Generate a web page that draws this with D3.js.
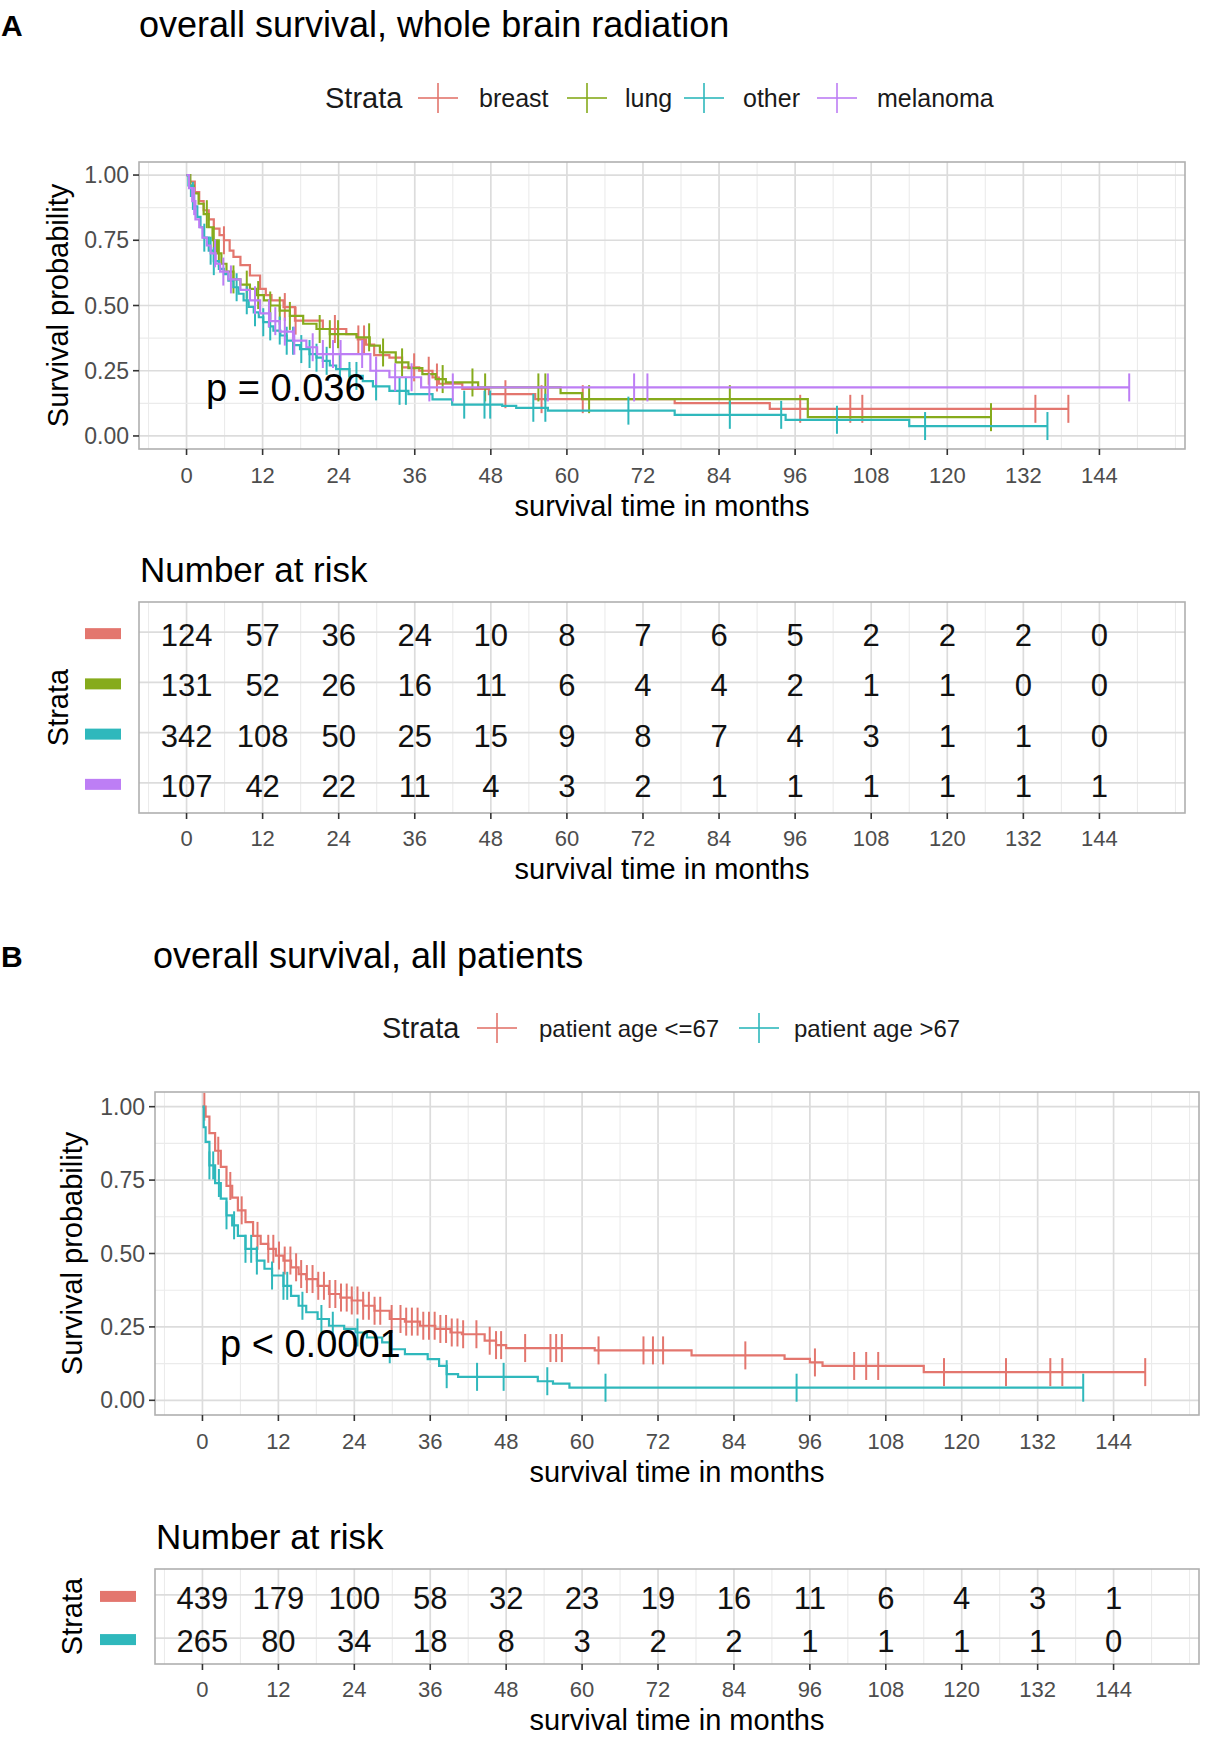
<!DOCTYPE html>
<html>
<head>
<meta charset="utf-8">
<script src="https://cdn.jsdelivr.net/npm/d3@7"></script>
<style>
  body { margin: 0; background: #fff; }
  svg { display: block; font-family: "Liberation Sans", Arial, sans-serif; }
  .tick-label { fill: #4d4d4d; font-size: 22px; }
  .axis-title { fill: #000; font-size: 29px; }
</style>
</head>
<body>
<div id="chart"></div>
<script>
// ---- data ----
const timeTicks = [0, 12, 24, 36, 48, 60, 72, 84, 96, 108, 120, 132, 144];
const yTicks = [0, 0.25, 0.5, 0.75, 1];

// panel A : whole brain radiation, by primary tumour
const strataA = ['breast', 'lung', 'other', 'melanoma'];
const breastSteps = [[0,1],[0.5,0.975],[1.3,0.935],[2,0.9],[2.7,0.865],[3.5,0.83],[4.3,0.795],[5.2,0.77],[5.9,0.75],[6.8,0.71],[7.4,0.686],[8.5,0.655],[10,0.615],[11.6,0.564],[12.5,0.54],[13.4,0.52],[15.3,0.494],[17.1,0.442],[21.5,0.41],[25.2,0.39],[27,0.37],[28.3,0.35],[29.6,0.31],[32,0.3],[34,0.263],[36.7,0.25],[38.8,0.224],[39.8,0.2],[43.5,0.18],[47.7,0.16],[55,0.141],[77,0.126],[92,0.104],[139.1,0.104]];
const lungSteps = [[0,1],[0.6,0.96],[1.15,0.93],[1.9,0.89],[2.7,0.85],[3.5,0.8],[4.1,0.75],[4.8,0.7],[5.5,0.66],[6.3,0.63],[7.4,0.6],[8.5,0.58],[10,0.564],[11,0.54],[12.2,0.52],[13.2,0.5],[14.7,0.48],[16.3,0.46],[18.4,0.43],[20.5,0.41],[22.6,0.39],[26.8,0.378],[28.9,0.346],[30.5,0.32],[33,0.282],[35,0.26],[37.2,0.237],[39.3,0.218],[40.9,0.205],[46,0.186],[59,0.164],[62.4,0.141],[98,0.072],[126.9,0.072]];
const otherSteps = [[0,1],[0.3,0.96],[0.7,0.92],[1.2,0.88],[1.7,0.84],[2.2,0.8],[2.7,0.76],[3.5,0.71],[4.3,0.67],[5.1,0.64],[5.9,0.62],[6.6,0.595],[7.4,0.57],[8.2,0.545],[9,0.52],[9.8,0.495],[10.6,0.474],[11.4,0.455],[12.1,0.436],[13,0.42],[13.7,0.404],[14.8,0.385],[15.8,0.365],[16.9,0.348],[17.9,0.333],[19.4,0.314],[20.5,0.3],[21.5,0.288],[22.6,0.27],[23.6,0.256],[25.7,0.23],[27.8,0.21],[29.4,0.19],[32,0.173],[35,0.16],[38.8,0.14],[41.9,0.12],[49.8,0.115],[52,0.108],[57,0.097],[77,0.081],[94.5,0.062],[114,0.038],[135.8,0.038]];
const melanomaSteps = [[0,1],[0.4,0.95],[0.9,0.9],[1.4,0.83],[2,0.8],[2.5,0.76],[3.2,0.73],[3.8,0.7],[4.6,0.66],[5.3,0.63],[6.6,0.6],[8.5,0.56],[10,0.52],[11.6,0.47],[13.2,0.44],[14.7,0.4],[16.8,0.365],[18.9,0.34],[20.6,0.314],[29,0.25],[32,0.225],[37,0.186],[148.7,0.186]];
const breastCensor = [5.9, 15.5, 17.2, 23.4, 27.1, 28.0, 35.9, 38.2, 39.5, 50.3, 56, 62.5, 96.8, 104.7, 106.6, 133.9, 139.1];
const lungCensor = [3.2, 4.3, 5.1, 7.4, 9.5, 11.3, 13.2, 14.7, 16.3, 21.0, 22.6, 23.9, 28.8, 31.0, 34.0, 40.4, 45.1, 47.1, 55.5, 56.6, 63.5, 85.7, 126.9];
const otherCensor = [1.0, 2.8, 3.8, 4.3, 7.9, 9.5, 10.8, 12.1, 13.2, 14.7, 15.8, 16.8, 18.1, 19.4, 20.5, 22.1, 24.2, 25.7, 26.8, 29.9, 33.6, 34.6, 43.8, 47.0, 47.9, 54.7, 56.6, 69.7, 85.7, 93.8, 102.6, 116.5, 135.8];
const melanomaCensor = [1.2, 4.5, 5.8, 7.0, 10.8, 13.0, 14.0, 15.5, 17.0, 19.9, 21.5, 23.1, 24.3, 27.7, 29.9, 32.9, 35.5, 38.3, 42, 57, 70.6, 72.7, 148.7];
const riskBreast = [124, 57, 36, 24, 10, 8, 7, 6, 5, 2, 2, 2, 0];
const riskLung = [131, 52, 26, 16, 11, 6, 4, 4, 2, 1, 1, 0, 0];
const riskOther = [342, 108, 50, 25, 15, 9, 8, 7, 4, 3, 1, 1, 0];
const riskMelanoma = [107, 42, 22, 11, 4, 3, 2, 1, 1, 1, 1, 1, 1];

// panel B : all patients, by age
const strataB = ['patient age <=67', 'patient age >67'];
const youngSteps = [[0,1],[0.5,0.966],[1.1,0.91],[2,0.85],[2.9,0.795],[3.8,0.73],[4.7,0.69],[5.6,0.647],[6.8,0.607],[8,0.56],[9.2,0.533],[10.4,0.516],[11.6,0.493],[12.8,0.476],[14,0.453],[15.2,0.43],[16.4,0.413],[18.2,0.39],[20,0.362],[21.8,0.35],[23.6,0.34],[25.4,0.322],[27.2,0.305],[29.6,0.277],[32,0.268],[34.4,0.254],[36.8,0.243],[39.2,0.231],[41,0.225],[44.6,0.203],[46.4,0.188],[48,0.178],[62,0.17],[77.3,0.153],[92,0.141],[96,0.129],[98,0.117],[114,0.096],[149,0.096]];
const oldSteps = [[0,1],[0.2,0.93],[0.5,0.88],[1.1,0.8],[2,0.74],[2.9,0.687],[3.8,0.63],[4.7,0.596],[5.6,0.56],[6.8,0.516],[8.6,0.476],[9.8,0.448],[11,0.425],[12.8,0.39],[14,0.356],[15.2,0.322],[16.4,0.3],[18.2,0.277],[20,0.254],[22.4,0.243],[24.2,0.231],[26,0.214],[28.4,0.197],[29.6,0.174],[32,0.157],[35.6,0.14],[37.4,0.117],[38.6,0.089],[40.4,0.08],[53,0.065],[55.4,0.057],[58,0.043],[139.2,0.043]];
const youngCensor = [0.3, 2.5, 4.4, 6.2, 8.7, 10.4, 11.2, 12.1, 13.0, 13.9, 14.8, 15.6, 16.5, 17.4, 18.3, 19.2, 20.1, 21.0, 21.9, 22.8, 23.6, 24.5, 25.4, 26.3, 27.2, 28.1, 29.9, 31.3, 32.2, 33.1, 34.0, 34.9, 35.8, 36.7, 37.6, 38.5, 39.4, 40.3, 41.2, 43.3, 45.4, 46.4, 47.2, 51, 55, 55.9, 56.8, 62.6, 69.7, 71.2, 72.8, 85.8, 96.8, 103, 104.9, 106.8, 117.2, 127, 134, 135.9, 149];
const oldCensor = [1.1, 1.7, 2.6, 3.8, 5.0, 6.8, 7.7, 8.6, 11.0, 12.8, 13.4, 15.8, 18.8, 20.6, 24.5, 29.6, 38.6, 43.4, 47.6, 54.5, 63.7, 93.9, 139.2];
const riskYoung = [439, 179, 100, 58, 32, 23, 19, 16, 11, 6, 4, 3, 1];
const riskOld = [265, 80, 34, 18, 8, 3, 2, 2, 1, 1, 1, 1, 0];

const colorsA = ['#e3766e', '#86ab1c', '#2fb8bc', '#bd7ef5'];
const colorsB = ['#e3766e', '#2fb8bc'];

// ---- drawing ----
const W = 1209, H = 1748;
const svg = d3.select('#chart').append('svg')
  .attr('width', W).attr('height', H)
  .attr('viewBox', `0 0 ${W} ${H}`);

const xDomain = [-7.5, 157.5];
const gridMinor = d3.range(-6, 157, 6);

function drawGrid(g, x, y, left, right, top, bottom, hLines) {
  // minor + major verticals
  g.selectAll('.vgrid').data(gridMinor).enter().append('line')
    .attr('x1', d => x(d)).attr('x2', d => x(d))
    .attr('y1', top).attr('y2', bottom)
    .attr('stroke', d => timeTicks.includes(d) ? '#dcdcdc' : '#ebebeb')
    .attr('stroke-width', d => timeTicks.includes(d) ? 1.7 : 1.1);
  g.selectAll('.hgrid').data(hLines).enter().append('line')
    .attr('x1', left).attr('x2', right)
    .attr('y1', d => y(d.v)).attr('y2', d => y(d.v))
    .attr('stroke', d => d.major ? '#dcdcdc' : '#ebebeb')
    .attr('stroke-width', d => d.major ? 1.7 : 1.1);
}

function xAxis(g, x, bottom, labelY, titleY, left, right) {
  g.selectAll('.xtick').data(timeTicks).enter().append('line')
    .attr('x1', d => x(d)).attr('x2', d => x(d))
    .attr('y1', bottom).attr('y2', bottom + 6)
    .attr('stroke', '#333').attr('stroke-width', 1.6);
  g.selectAll('.xlab').data(timeTicks).enter().append('text')
    .attr('class', 'tick-label')
    .attr('x', d => x(d)).attr('y', labelY)
    .attr('text-anchor', 'middle')
    .text(d => d);
  g.append('text').attr('class', 'axis-title')
    .attr('x', (left + right) / 2).attr('y', titleY)
    .attr('text-anchor', 'middle')
    .text('survival time in months');
}

function legend(g, cfg) {
  g.append('text').attr('x', cfg.x).attr('y', cfg.y + 10)
    .attr('font-size', 29).attr('fill', '#1a1a1a').text('Strata');
  cfg.items.forEach((name, i) => {
    const cx = cfg.crossX[i];
    g.append('line').attr('x1', cx - 20).attr('x2', cx + 20)
      .attr('y1', cfg.y).attr('y2', cfg.y)
      .attr('stroke', cfg.colors[i]).attr('stroke-width', 2).attr('opacity', 0.8);
    g.append('line').attr('x1', cx).attr('x2', cx)
      .attr('y1', cfg.y - 15).attr('y2', cfg.y + 15)
      .attr('stroke', cfg.colors[i]).attr('stroke-width', 2).attr('opacity', 0.8);
    g.append('text').attr('x', cfg.textX[i]).attr('y', cfg.y + 9)
      .attr('font-size', cfg.labelSize).attr('fill', '#1a1a1a').text(name);
  });
}

function survPanel(cfg) {
  const g = svg.append('g');
  const x = d3.scaleLinear().domain(xDomain).range([cfg.left, cfg.right]);
  const y = d3.scaleLinear().domain([-0.05, 1.05]).range([cfg.bottom, cfg.top]);

  g.append('rect').attr('x', cfg.left).attr('y', cfg.top)
    .attr('width', cfg.right - cfg.left).attr('height', cfg.bottom - cfg.top)
    .attr('fill', '#fff');
  const hLines = d3.range(0, 1.01, 0.125).map(v => ({ v: v, major: yTicks.includes(v) }));
  drawGrid(g, x, y, cfg.left, cfg.right, cfg.top, cfg.bottom, hLines);

  const line = d3.line().x(d => x(d[0])).y(d => y(d[1])).curve(d3.curveStepAfter);
  const bis = d3.bisector(d => d[0]).right;

  cfg.series.forEach((s, i) => {
    g.append('path').datum(s.steps)
      .attr('d', line)
      .attr('fill', 'none').attr('stroke', cfg.colors[i])
      .attr('stroke-width', 2.2);
    // censor ticks sit on the curve at the censoring time
    g.selectAll('.c' + i).data(s.censor).enter().append('line')
      .attr('x1', d => x(d)).attr('x2', d => x(d))
      .attr('y1', d => y(s.steps[bis(s.steps, d) - 1][1]) - 14)
      .attr('y2', d => y(s.steps[bis(s.steps, d) - 1][1]) + 14)
      .attr('stroke', cfg.colors[i]).attr('stroke-width', 2);
  });

  g.append('rect').attr('x', cfg.left).attr('y', cfg.top)
    .attr('width', cfg.right - cfg.left).attr('height', cfg.bottom - cfg.top)
    .attr('fill', 'none').attr('stroke', '#b0b0b0').attr('stroke-width', 1.6);

  // y axis
  g.selectAll('.ytick').data(yTicks).enter().append('line')
    .attr('x1', cfg.left - 6).attr('x2', cfg.left)
    .attr('y1', d => y(d)).attr('y2', d => y(d))
    .attr('stroke', '#333').attr('stroke-width', 1.6);
  g.selectAll('.ylab').data(yTicks).enter().append('text')
    .attr('class', 'tick-label')
    .style('font-size', '23px')
    .attr('x', cfg.left - 10).attr('y', d => y(d) + 8)
    .attr('text-anchor', 'end')
    .text(d => d3.format('.2f')(d));
  g.append('text').attr('class', 'axis-title')
    .attr('transform', `translate(${cfg.yTitleX},${(cfg.top + cfg.bottom) / 2}) rotate(-90)`)
    .attr('text-anchor', 'middle')
    .text('Survival probability');

  xAxis(g, x, cfg.bottom, cfg.bottom + 34, cfg.bottom + 67, cfg.left, cfg.right);

  g.append('text').attr('x', cfg.pX).attr('y', cfg.pY)
    .attr('font-size', 38).attr('fill', '#000').text(cfg.pText);
}

function riskTable(cfg) {
  const g = svg.append('g');
  const x = d3.scaleLinear().domain(xDomain).range([cfg.left, cfg.right]);
  const y = d3.scalePoint().domain(cfg.names).range([cfg.top, cfg.bottom]).padding(0.6);

  g.append('text').attr('x', cfg.left + 1).attr('y', cfg.top - 20)
    .attr('font-size', 35).attr('fill', '#000').text('Number at risk');

  const hLines = cfg.names.map(n => ({ v: n, major: true }));
  drawGrid(g, x, y, cfg.left, cfg.right, cfg.top, cfg.bottom, hLines);

  g.append('rect').attr('x', cfg.left).attr('y', cfg.top)
    .attr('width', cfg.right - cfg.left).attr('height', cfg.bottom - cfg.top)
    .attr('fill', 'none').attr('stroke', '#b0b0b0').attr('stroke-width', 1.6);

  cfg.names.forEach((n, i) => {
    g.selectAll('.n' + i).data(cfg.rows[i]).enter().append('text')
      .attr('x', (d, j) => x(timeTicks[j])).attr('y', y(n) + 14)
      .attr('text-anchor', 'middle')
      .attr('font-size', 31).attr('fill', '#111')
      .text(d => d);
    g.append('rect').attr('x', cfg.barX).attr('y', y(n) - 4)
      .attr('width', 36).attr('height', 11)
      .attr('fill', cfg.colors[i]);
  });

  g.append('text').attr('class', 'axis-title')
    .attr('transform', `translate(${cfg.strataX},${(cfg.top + cfg.bottom) / 2}) rotate(-90)`)
    .attr('text-anchor', 'middle')
    .text('Strata');

  xAxis(g, x, cfg.bottom, cfg.bottom + 33, cfg.bottom + 66, cfg.left, cfg.right);
}

// ---------- panel A ----------
svg.append('text').attr('x', 1).attr('y', 36).attr('font-size', 30)
  .attr('font-weight', 'bold').text('A');
svg.append('text').attr('x', 139).attr('y', 37).attr('font-size', 36)
  .text('overall survival, whole brain radiation');
legend(svg.append('g'), {
  x: 325, y: 98, items: strataA, colors: colorsA, labelSize: 25,
  crossX: [438, 587, 704, 837], textX: [479, 625, 743, 877]
});
survPanel({
  left: 139, right: 1185, top: 162, bottom: 449, yTitleX: 68,
  colors: colorsA,
  series: [
    { steps: breastSteps, censor: breastCensor },
    { steps: lungSteps, censor: lungCensor },
    { steps: otherSteps, censor: otherCensor },
    { steps: melanomaSteps, censor: melanomaCensor }
  ],
  pText: 'p = 0.036', pX: 206, pY: 401
});
riskTable({
  left: 139, right: 1185, top: 602, bottom: 813,
  names: strataA, rows: [riskBreast, riskLung, riskOther, riskMelanoma],
  colors: colorsA, barX: 85, strataX: 68
});

// ---------- panel B ----------
svg.append('text').attr('x', 1).attr('y', 967).attr('font-size', 30)
  .attr('font-weight', 'bold').text('B');
svg.append('text').attr('x', 153).attr('y', 968).attr('font-size', 36)
  .text('overall survival, all patients');
legend(svg.append('g'), {
  x: 382, y: 1028, items: strataB, colors: colorsB, labelSize: 24,
  crossX: [497, 759], textX: [539, 794]
});
survPanel({
  left: 155, right: 1199, top: 1092, bottom: 1415, yTitleX: 82,
  colors: colorsB,
  series: [
    { steps: youngSteps, censor: youngCensor },
    { steps: oldSteps, censor: oldCensor }
  ],
  pText: 'p < 0.0001', pX: 220, pY: 1357
});
riskTable({
  left: 155, right: 1199, top: 1569, bottom: 1664,
  names: strataB, rows: [riskYoung, riskOld],
  colors: colorsB, barX: 100, strataX: 82
});
</script>
</body>
</html>
